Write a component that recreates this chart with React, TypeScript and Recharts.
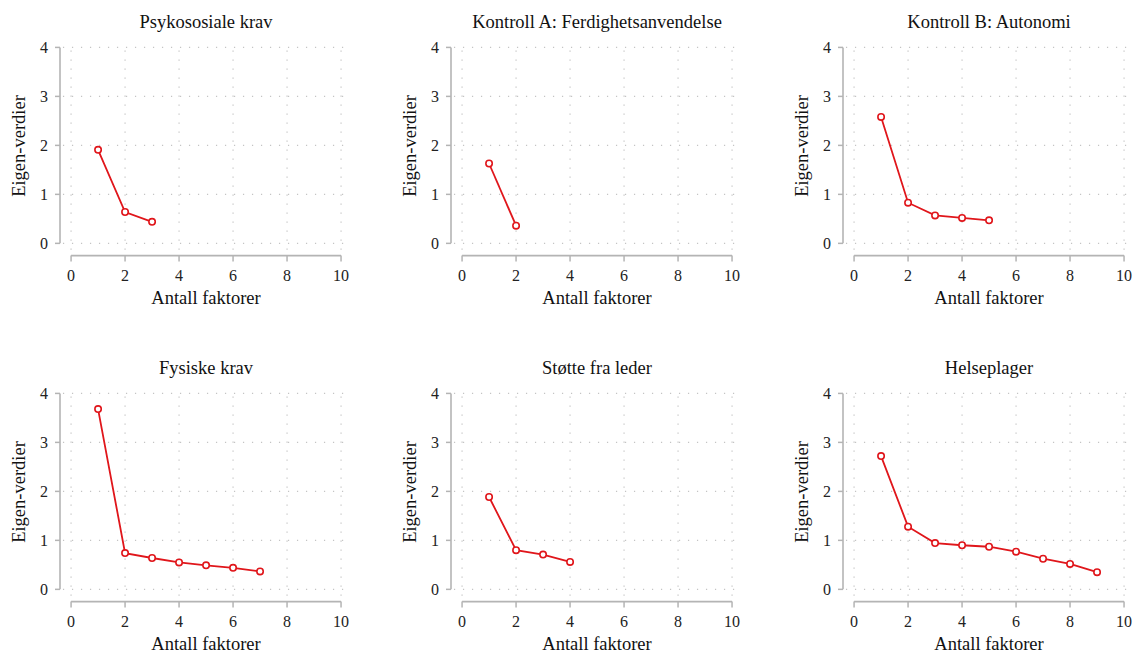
import React from 'react';
import { LineChart, Line, XAxis, YAxis, ReferenceLine } from 'recharts';

// eigenvalues per factor number (1, 2, 3, ...)
const psykososialeKrav = [1.91, 0.64, 0.44];
const kontrollA = [1.63, 0.36];
const kontrollB = [2.58, 0.83, 0.57, 0.52, 0.47];
const fysiskeKrav = [3.68, 0.74, 0.64, 0.55, 0.49, 0.44, 0.365];
const stotteFraLeder = [1.885, 0.8, 0.71, 0.56];
const helseplager = [2.72, 1.28, 0.945, 0.9, 0.87, 0.77, 0.625, 0.52, 0.35];

const titles = [
  'Psykososiale krav',
  'Kontroll A: Ferdighetsanvendelse',
  'Kontroll B: Autonomi',
  'Fysiske krav',
  'Støtte fra leder',
  'Helseplager',
];
const series = [psykososialeKrav, kontrollA, kontrollB, fysiskeKrav, stotteFraLeder, helseplager];

const xTicks = [0, 2, 4, 6, 8, 10];
const yTicks = [0, 1, 2, 3, 4];

const RED = '#e0161b';
const AXIS = '#b4b4b4';
const GRID = '#c4c4c4';
const FONT = '"Liberation Serif", "Times New Roman", serif';

const COL_X = [0, 391, 783];
const ROW_Y = [0, 346];

const CHART_W = 352;
const CHART_H = 308;

const Panel = ({ title, values }: { title: string; values: number[] }) => {
  const data = values.map((v, i) => ({ x: i + 1, y: v }));
  return (
    <div style={{ position: 'relative', width: CHART_W, height: CHART_H }}>
      <div
        style={{
          position: 'absolute', left: 71, width: 270, top: 11, height: 22, lineHeight: '22px',
          textAlign: 'center', fontFamily: FONT, fontSize: 18.5, color: '#111', whiteSpace: 'nowrap',
        }}
      >
        {title}
      </div>
      <LineChart width={CHART_W} height={CHART_H} data={data} margin={{ top: 43, right: 1.5, left: 0, bottom: 22.4 }}>
        <XAxis
          dataKey="x"
          type="number"
          domain={[-0.41, 10.35]}
          ticks={xTicks}
          allowDataOverflow
          height={30}
          axisLine={false}
          tickLine={{ stroke: AXIS, strokeWidth: 1.5 }}
          tickSize={6}
          tickMargin={8}
          tick={{ fill: '#222', fontSize: 16, fontFamily: FONT }}
        />
        <YAxis
          type="number"
          domain={[-0.25, 4.09]}
          ticks={yTicks}
          allowDataOverflow
          width={60}
          axisLine={false}
          tickLine={{ stroke: AXIS, strokeWidth: 1.5 }}
          tickSize={5}
          tickMargin={7}
          tick={{ fill: '#222', fontSize: 16, fontFamily: FONT }}
        />
        {yTicks.map((t) => (
          <ReferenceLine
            key={`h${t}`}
            segment={[{ x: -0.3, y: t }, { x: 10.35, y: t }]}
            stroke={GRID}
            strokeWidth={1.2}
            strokeDasharray="1.2 7.8"
          />
        ))}
        {xTicks.map((t) => (
          <ReferenceLine
            key={`v${t}`}
            segment={[{ x: t, y: -0.13 }, { x: t, y: 4.09 }]}
            stroke={GRID}
            strokeWidth={1.2}
            strokeDasharray="1.2 7.8"
          />
        ))}
        <ReferenceLine segment={[{ x: 0, y: -0.25 }, { x: 10, y: -0.25 }]} stroke={AXIS} strokeWidth={1.6} />
        <ReferenceLine segment={[{ x: -0.41, y: 0 }, { x: -0.41, y: 4 }]} stroke={AXIS} strokeWidth={1.6} />
        <Line
          type="linear"
          dataKey="y"
          stroke={RED}
          strokeWidth={1.8}
          dot={{ r: 3.2, stroke: RED, strokeWidth: 1.6, fill: '#fff' }}
          isAnimationActive={false}
        />
      </LineChart>
      <div
        style={{
          position: 'absolute', left: 71, width: 270, top: 287, height: 22, lineHeight: '22px',
          textAlign: 'center', fontFamily: FONT, fontSize: 18.5, color: '#111', whiteSpace: 'nowrap',
        }}
      >
        Antall faktorer
      </div>
      <div
        style={{
          position: 'absolute', left: 19 - 75, top: 145.5 - 11, width: 150, height: 22, lineHeight: '22px',
          textAlign: 'center', fontFamily: FONT, fontSize: 18.5, color: '#111', whiteSpace: 'nowrap',
          transform: 'rotate(-90deg)',
        }}
      >
        Eigen-verdier
      </div>
    </div>
  );
};

export default function App() {
  return (
    <div
      style={{
        position: 'absolute', left: 0, top: 0, width: 1134, height: 654,
        background: '#fff', overflow: 'hidden',
      }}
    >
      {titles.map((t, i) => (
        <div key={t} style={{ position: 'absolute', left: COL_X[i % 3], top: ROW_Y[Math.floor(i / 3)] }}>
          <Panel title={t} values={series[i]} />
        </div>
      ))}
    </div>
  );
}
